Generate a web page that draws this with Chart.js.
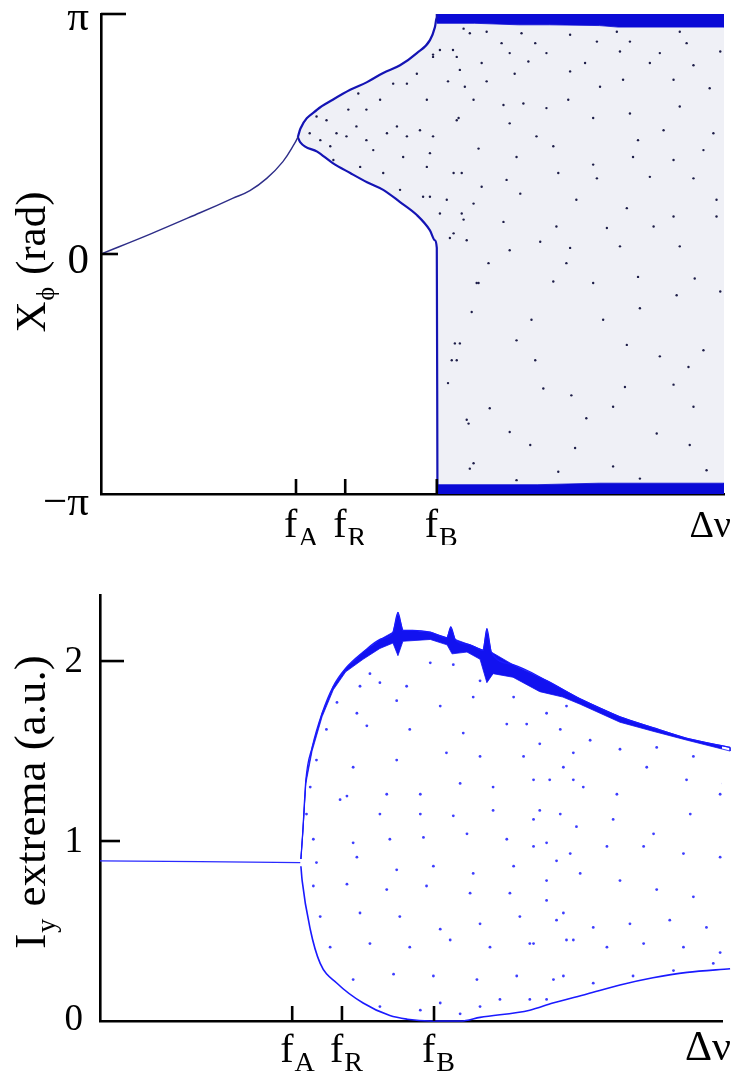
<!DOCTYPE html>
<html><head><meta charset="utf-8">
<script src="https://cdn.jsdelivr.net/npm/chart.js@4.4.1/dist/chart.umd.min.js"></script>
<style>
html,body{margin:0;padding:0;background:#fff;}
#wrap{position:relative;width:731px;height:1075px;overflow:hidden;background:#fff;}
.box{position:absolute;left:0;width:731px;}
canvas{display:block;}
</style></head><body>
<div id="wrap">
<div class="box" style="top:0;height:545px"><canvas id="topChart" width="731" height="545"></canvas></div>
<div class="box" style="top:545px;height:530px"><canvas id="botChart" width="731" height="530"></canvas></div>
</div>
<script>
const SERIF = "'Liberation Serif','Times New Roman',Times,serif";
const fs = px => `${px}px ${SERIF}`;

// ---------------- Top panel (X_phi) ----------------
const xTickSubs = ['A', 'R', 'B'];
const topXTickValues = [31.3, 39.2, 53.9];
const topYTickValues = [Math.PI, 0, -Math.PI];
const topYTickLabels = ['π', '0', '−π'];

const stableBranch = [[0,0],[7.9,0.26],[15.9,0.54],[21.2,0.73],[23.9,0.83],[26.6,0.99],[29.2,1.21],[31.1,1.45],[31.6,1.53]];
const upperBranch = [[31.6,1.53],[32.0,1.64],[34.7,1.89],[37.2,2.02],[40.0,2.15],[42.7,2.25],[45.3,2.37],[48.0,2.47],[50.7,2.63],[52.8,2.80],[53.6,2.97],[53.9,3.10],[53.9,3.14]];
const lowerBranch = [[31.6,1.53],[32.0,1.46],[34.7,1.34],[37.2,1.19],[40.0,1.06],[42.7,0.94],[45.3,0.84],[48.0,0.68],[50.7,0.51],[52.8,0.31],[53.6,0.18],[53.9,0.08],[54.0,-3.05]];
const piBandTop = [[53.9,3.1416],[100,3.1416]];
const piBandLow = [[53.9,3.02],[60.0,3.02],[67.0,3.00],[72.0,3.00],[80.0,2.99],[83.0,2.97],[100,2.97]];
const negBandTop = [[54.0,-3.02],[70.0,-3.02],[80.0,-3.00],[100,-3.00]];
const negBandBottom = [[54.0,-3.1416],[100,-3.1416]];
const topDots = [
[61.9,2.91],[67.5,2.89],[75.3,2.87],[82.8,2.91],[92.9,2.91],[58.2,2.95],
[64.3,2.76],[69.7,2.76],[79.6,2.78],[84.9,2.78],[94.0,2.76],
[53.3,2.61],[57.1,2.58],[65.6,2.63],[71.5,2.63],[83.3,2.65],[89.7,2.63],[99.4,2.65],
[57.6,2.41],[61.1,2.50],[68.6,2.52],[77.7,2.50],[88.1,2.50],[95.1,2.47],
[55.7,2.26],[61.9,2.26],[66.4,2.36],[75.3,2.39],[83.8,2.28],[91.9,2.28],[97.7,2.17],[58.4,2.19],[80.1,2.19],
[52.3,2.02],[59.8,2.02],[67.8,1.97],[75.0,2.02],[84.9,1.84],[92.9,1.93],[64.6,1.95],[71.5,1.91],
[57.4,1.78],[65.6,1.71],[69.9,1.54],[79.0,1.78],[86.2,1.49],[98.3,1.58],[90.3,1.62],
[52.8,1.32],[60.6,1.38],[66.7,1.27],[72.6,1.41],[79.0,1.17],[85.4,1.27],[91.9,1.23],[96.7,1.36],
[57.9,1.06],[65.1,0.97],[73.4,1.06],[79.6,0.99],[88.1,1.01],[95.1,0.99],[61.1,0.88],
[52.8,0.75],[59.8,0.66],[67.3,0.79],[76.3,0.71],[84.4,0.60],[91.9,0.49],[98.8,0.71],
[57.9,0.53],[64.6,0.42],[73.1,0.36],[81.2,0.34],[88.7,0.36],[98.8,0.49],
[56.0,0.21],[65.6,0.05],[75.3,0.08],[83.3,0.10],[92.9,0.10],[70.5,0.16],
[60.6,-0.38],[72.6,-0.36],[79.0,-0.38],[86.2,-0.30],[95.3,-0.32],[74.7,-0.12],[62.2,-0.12],
[59.5,-0.76],[69.1,-0.86],[80.6,-0.86],[86.5,-0.71],[92.4,-0.54],[99.4,-0.49],
[56.8,-1.17],[66.7,-1.13],[84.4,-1.19],[89.7,-1.34],[96.7,-1.26],[56.3,-1.39],[69.7,-1.39],[94.3,-1.48],
[55.7,-1.69],[71.0,-1.76],[75.5,-1.85],[84.1,-1.74],[91.9,-1.71],
[62.4,-2.02],[82.2,-2.00],[95.1,-2.00],[59.0,-2.22],[65.6,-2.33],[77.9,-2.15],[89.2,-2.35],
[68.9,-2.50],[76.1,-2.54],[94.5,-2.50],[59.2,-2.81],[73.4,-2.85],[82.2,-2.78],[97.2,-2.83],[66.7,-2.96],[86.5,-2.94],
[34.6,1.80],[36.2,1.75],[37.8,1.58],[39.7,1.89],[41.3,2.10],[42.6,1.89],[44.8,2.02],[46.9,2.23],[49.1,2.23],[50.7,2.36],[53.3,2.58],[56.5,2.67],
[33.5,1.58],[35.2,1.49],[39.4,1.54],[42.6,1.49],[45.9,1.58],[49.1,1.54],[53.3,1.54],[57.1,1.75],
[37.3,1.23],[41.6,1.14],[45.3,1.06],[48.5,1.27],[52.3,1.14],[56.6,1.06],
[48.0,0.84],[51.7,0.75],[55.5,0.71],[54.4,0.53],[58.2,0.45],[56.6,0.27],[58.7,0.18],
[60.3,-0.38],[57.6,-1.17],[57.1,-1.39],[58.7,-2.17],[59.8,-2.74],
[43.7,1.36],[36.8,1.41],[41.0,1.67],[47.5,1.67],[51.2,1.62],[54.4,2.67],[59.2,2.89]
];

// ---------------- Bottom panel (I_y extrema) ----------------
const botXTickValues = [30.9, 38.9, 53.7];
const botYTickValues = [2, 1, 0];
const botYTickLabels = ['2', '1', '0'];

const steadyLine = [[0,0.89],[32.2,0.88]];
const upperEnvTop = [[32.3,0.90],[32.6,1.05],[33.1,1.34],[34.1,1.52],[35.7,1.71],[37.5,1.86],[39.5,1.96],[42.3,2.05],[45.0,2.12],[47.1,2.16],[47.9,2.27],[48.7,2.17],[50.3,2.17],[53.1,2.16],[55.8,2.13],[56.4,2.19],[57.1,2.12],[59.5,2.09],[61.6,2.06],[62.2,2.18],[62.9,2.05],[66.4,1.98],[71.9,1.89],[77.2,1.79],[83.6,1.69],[88.9,1.63],[94.4,1.57],[101.3,1.52]];
const upperEnvLow = [[32.3,0.90],[32.6,1.04],[33.1,1.32],[34.1,1.50],[35.7,1.69],[37.5,1.84],[39.5,1.94],[42.3,2.01],[45.0,2.07],[47.1,2.10],[47.9,2.03],[48.7,2.11],[53.1,2.12],[55.8,2.09],[56.6,2.04],[59.0,2.05],[61.1,2.01],[62.2,1.88],[63.2,1.93],[66.4,1.91],[70.7,1.83],[74.4,1.80],[77.2,1.76],[83.6,1.66],[88.9,1.61],[94.4,1.56],[101.3,1.50]];
const lowerEnv = [[32.3,0.86],[32.5,0.78],[33.8,0.51],[35.4,0.32],[38.1,0.21],[42.3,0.10],[46.6,0.03],[49.4,0.01],[53.0,0.00],[58.0,0.00],[61.1,0.02],[69.1,0.06],[72.8,0.10],[78.3,0.15],[83.6,0.20],[88.9,0.24],[94.4,0.27],[101.3,0.29]];
const botDots = [
[43.4,1.93],[45.0,1.88],[49.3,1.86],[53.1,1.99],[56.8,1.98],[61.1,1.89],[41.8,1.86],[38.1,1.77],[41.3,1.71],[47.7,1.78],[54.7,1.75],[60.0,1.80],[66.5,1.80],[71.8,1.71],[75.0,1.75],
[36.4,1.62],[42.9,1.64],[49.8,1.62],[58.4,1.60],[65.4,1.65],[70.7,1.54],[76.1,1.49],
[34.8,1.45],[40.7,1.41],[47.7,1.45],[55.7,1.49],[61.1,1.47],[68.1,1.47],[74.5,1.41],
[33.8,1.30],[39.7,1.25],[46.1,1.26],[51.5,1.26],[57.9,1.32],[63.2,1.30],[69.7,1.34],[76.1,1.34],
[33.2,1.15],[38.6,1.23],[45.0,1.15],[51.5,1.15],[56.8,1.14],[63.2,1.17],[69.7,1.12],[74.0,1.15],
[34.3,1.01],[40.7,0.99],[46.6,1.01],[52.0,1.02],[59.0,1.04],[65.4,1.01],[71.8,0.99],
[34.8,0.88],[41.3,0.91],[47.7,0.84],[53.6,0.86],[60.0,0.82],[66.5,0.86],[73.4,0.89],
[34.3,0.75],[39.7,0.76],[46.1,0.73],[52.5,0.75],[59.5,0.71],[65.9,0.71],[71.8,0.67],
[35.4,0.58],[41.8,0.60],[48.2,0.58],[54.7,0.51],[61.1,0.54],[67.5,0.58],[74.5,0.60],
[37.0,0.41],[43.4,0.43],[49.8,0.41],[56.3,0.45],[62.7,0.41],[69.7,0.43],[76.1,0.45],
[40.7,0.23],[47.2,0.26],[53.6,0.25],[60.6,0.23],[67.0,0.25],[74.5,0.25],
[45.0,0.08],[51.5,0.06],[57.9,0.04],[64.3,0.12],[71.8,0.12],[54.7,0.10],[61.1,0.08],
[68.6,1.65],[74.0,1.62],[78.8,1.56],[83.6,1.51],[89.5,1.52],[95.4,1.47],[100.2,1.32],
[72.3,1.34],[77.7,1.30],[83.1,1.26],[87.9,1.41],[94.3,1.34],[99.7,1.26],
[70.7,1.17],[76.6,1.08],[82.5,1.12],[89.0,1.04],[94.9,1.15],[100.8,1.15],
[69.7,0.97],[75.6,0.93],[81.5,0.97],[87.4,0.97],[93.8,0.93],[99.7,0.91],
[71.8,0.78],[77.2,0.82],[83.6,0.78],[89.5,0.73],[95.4,0.69],
[73.4,0.56],[79.3,0.52],[85.2,0.54],[91.6,0.56],[97.5,0.52],
[69.1,0.43],[75.0,0.45],[81.5,0.41],[87.4,0.43],[93.8,0.41],[99.7,0.38],
[72.9,0.23],[79.3,0.21],[85.7,0.25],[92.2,0.28],[98.6,0.32],[69.1,0.12]
];

// ---------------- helpers ----------------
const pts = a => a.map(([x, y]) => ({x, y}));
const rev = a => a.slice().reverse();

function lineDs(data, color, width, order, extra) {
  return Object.assign({data: pts(data), borderColor: color, borderWidth: width, pointRadius: 0,
    fill: false, tension: 0, cubicInterpolationMode: 'monotone', order: order}, extra || {});
}
function shapeDs(data, color, order, extra) {
  return Object.assign({data: pts(data), borderColor: color, backgroundColor: color, borderWidth: 0.8,
    pointRadius: 0, fill: 'shape', tension: 0, order: order}, extra || {});
}
function dotDs(data, color, r, order, extra) {
  return Object.assign({data: pts(data), showLine: false, pointRadius: r, pointBorderWidth: 0,
    pointBackgroundColor: color, borderColor: color, order: order}, extra || {});
}

function makeDecor(o) {
  return {
    id: 'decor_' + o.name,
    afterDraw(chart) {
      const {ctx, chartArea: ca, scales: {x, y}} = chart;
      ctx.save();
      ctx.strokeStyle = '#000'; ctx.fillStyle = '#000'; ctx.lineWidth = 2.6;
      o.yTicks.forEach((v, i) => {
        const py = y.getPixelForValue(v);
        if (o.yLens[i]) {
          ctx.beginPath(); ctx.moveTo(ca.left, py); ctx.lineTo(ca.left + o.yLens[i], py); ctx.stroke();
        }
        ctx.font = fs(o.ySize); ctx.textAlign = 'right'; ctx.textBaseline = 'alphabetic';
        ctx.fillText(o.yLabels[i], o.yRight, py + o.yOffs[i]);
      });
      o.xTicks.forEach((v, i) => {
        const px = x.getPixelForValue(v);
        ctx.beginPath(); ctx.moveTo(px, ca.bottom); ctx.lineTo(px, ca.bottom - 15); ctx.stroke();
        ctx.textAlign = 'left'; ctx.textBaseline = 'alphabetic';
        ctx.font = fs(40);
        const fx = px - 12, base = ca.bottom + o.xBase;
        ctx.fillText('f', fx, base);
        const w = ctx.measureText('f').width;
        ctx.font = fs(28);
        ctx.fillText(xTickSubs[i], fx + w + 1, base + 9);
      });
      ctx.font = fs(o.dnuSize); ctx.textAlign = 'right';
      ctx.fillText('Δν', 731, ca.bottom + o.dnuBase);
      ctx.save();
      ctx.translate(45, o.titleCY);
      ctx.rotate(-Math.PI / 2);
      ctx.textAlign = 'left';
      ctx.font = fs(o.titleSize); const w1 = ctx.measureText(o.titleMain).width;
      ctx.font = fs(o.titleSubSize); const w2 = ctx.measureText(o.titleSub).width;
      ctx.font = fs(o.titleSize); const w3 = ctx.measureText(o.titleRest).width;
      let sx = -(w1 + w2 + w3 + 2) / 2;
      ctx.font = fs(o.titleSize); ctx.fillText(o.titleMain, sx, 0); sx += w1 + 1;
      ctx.font = fs(o.titleSubSize); ctx.fillText(o.titleSub, sx, o.titleSubDy); sx += w2 + 1;
      ctx.font = fs(o.titleSize); ctx.fillText(o.titleRest, sx, 0);
      ctx.restore();
      ctx.restore();
    }
  };
}

function makeChart(id, cfg) {
  const axis = (min, max, horiz) => ({
    type: 'linear', min: min, max: max,
    ticks: {display: false}, grid: {display: false, drawTicks: false},
    border: {display: true, color: '#000', width: 2.6},
    afterFit: s => { if (horiz) s.height = 0; else s.width = 0; }
  });
  return new Chart(document.getElementById(id), {
    type: 'line',
    data: {datasets: cfg.datasets},
    options: {
      responsive: false, animation: false, devicePixelRatio: 1,
      layout: {padding: cfg.padding},
      plugins: {legend: {display: false}, tooltip: {enabled: false}},
      events: [],
      scales: {x: axis(cfg.xMin, cfg.xMax, true), y: axis(cfg.yMin, cfg.yMax, false)}
    },
    plugins: [cfg.plugin]
  });
}

const chaosRegion = [...upperBranch, ...piBandLow, ...rev(negBandTop), ...rev(lowerBranch)];
makeChart('topChart', {
  padding: {left: 101, right: 7, top: 14, bottom: 51},
  xMin: 0, xMax: 100, yMin: -Math.PI, yMax: Math.PI,
  datasets: [
    shapeDs(chaosRegion, '#eff0f6', 20, {borderWidth: 0}),
    dotDs(topDots, '#1d1d48', 1.2, 10),
    shapeDs([...piBandTop, ...rev(piBandLow)], '#0a0ad6', 5),
    shapeDs([...negBandTop, ...rev(negBandBottom)], '#0a0ad6', 5),
    lineDs(stableBranch, '#2d2d88', 1.4, 3, {cubicInterpolationMode: 'default', tension: 0.4}),
    lineDs(upperBranch, '#1414b4', 2.2, 3),
    lineDs(lowerBranch, '#1414b4', 2.2, 3)
  ],
  plugin: makeDecor({
    name: 'top',
    yTicks: topYTickValues, yLabels: topYTickLabels, yLens: [25, 17, 0], yOffs: [16, 19, 21],
    ySize: 43, yRight: 89,
    xTicks: topXTickValues, xBase: 43,
    dnuSize: 38, dnuBase: 43,
    titleMain: 'X', titleSub: 'ϕ', titleRest: ' (rad)', titleCY: 262,
    titleSize: 43, titleSubSize: 26, titleSubDy: 9
  })
});

const clipR = {left: 0, top: 0, right: 12, bottom: 2};
makeChart('botChart', {
  padding: {left: 100, right: 9, top: 50, bottom: 54},
  xMin: 0, xMax: 100, yMin: 0, yMax: 2.367,
  datasets: [
    dotDs(botDots, 'rgba(40,40,255,0.9)', 1.4, 10),
    shapeDs([...upperEnvTop, ...rev(upperEnvLow)], '#1212f0', 5, {clip: clipR}),
    lineDs(upperEnvTop, '#1a1aff', 1.3, 3, {clip: clipR}),
    lineDs(lowerEnv, '#1a1aff', 1.6, 3, {clip: clipR}),
    lineDs(steadyLine, '#2a2aff', 1.3, 3)
  ],
  plugin: makeDecor({
    name: 'bot',
    yTicks: botYTickValues, yLabels: botYTickLabels, yLens: [24, 20, 0], yOffs: [11, 11, 9],
    ySize: 37, yRight: 83,
    xTicks: botXTickValues, xBase: 41,
    dnuSize: 42, dnuBase: 39,
    titleMain: 'I', titleSub: 'y', titleRest: ' extrema (a.u.)', titleCY: 257,
    titleSize: 45, titleSubSize: 28, titleSubDy: 10
  })
});
</script>
</body></html>
